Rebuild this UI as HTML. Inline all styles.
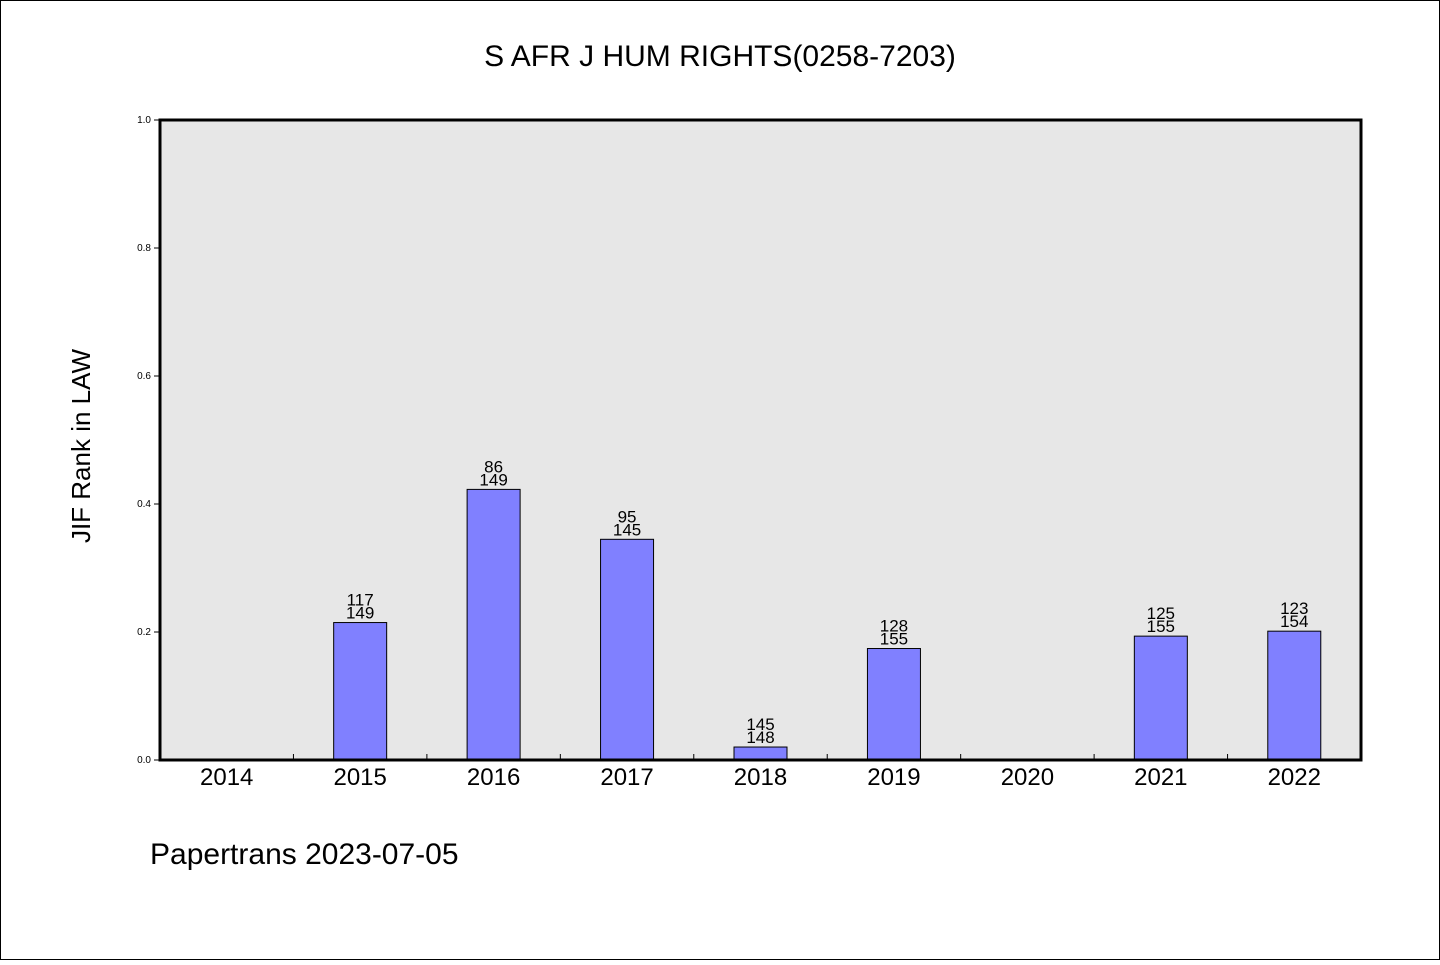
<!DOCTYPE html>
<html><head><meta charset="utf-8"><style>
html,body{margin:0;padding:0;background:#fff;}
svg text{font-family:"WenQuanYi Zen Hei","Liberation Sans",sans-serif;fill:#000;}
</style></head><body>
<svg id="chart" width="1440" height="960" xmlns="http://www.w3.org/2000/svg">
<rect x="0.5" y="0.5" width="1439" height="959" fill="#fff" stroke="#000"/>
<text x="720" y="66" font-size="30" text-anchor="middle">S AFR J HUM RIGHTS(0258-7203)</text>
<rect x="160" y="120" width="1201" height="640" fill="#e7e7e7"/>
<g id="marks"></g>
<rect x="160" y="120" width="1201" height="640" fill="none" stroke="#000" stroke-width="3"/>
<text transform="translate(90,446) rotate(-90)" font-size="26" text-anchor="middle">JIF Rank in LAW</text>
<text x="150" y="864" font-size="30">Papertrans 2023-07-05</text>
</svg>
<script>
const years = ["2014","2015","2016","2017","2018","2019","2020","2021","2022"];
const ranks = [null,117,86,95,145,128,null,125,123];
const totals = [null,149,149,145,148,155,null,155,154];
const yTicks = ["0.0","0.2","0.4","0.6","0.8","1.0"];
const NS="http://www.w3.org/2000/svg";
const g=document.getElementById('marks');
const X0=160,X1=1361,Y0=760,Y1=120;
const band=(X1-X0)/years.length;
const xs=i=>X0+band*(i+0.5);
const ys=v=>Y0-(Y1-Y0)*-1*v;
function yScale(v){return Y0-v*(Y0-Y1);}
function mk(t,a){const e=document.createElementNS(NS,t);for(const k in a)e.setAttribute(k,a[k]);g.appendChild(e);return e;}
yTicks.forEach((t,i)=>{
  const v=parseFloat(t),y=yScale(v);
  const l=mk('line',{x1:154,x2:160,y1:y,y2:y,stroke:'#000'});
  
  
  const tx=mk('text',{x:151,y:y+3,'font-size':10,'text-anchor':'end'});
  tx.textContent=t;
  
  
});
years.forEach((yr,i)=>{
  if(i>0){
    const xb=X0+band*i;
    const l=mk('line',{x1:xb,x2:xb,y1:754,y2:760,stroke:'#000'});
    
    
  }
  const tx=mk('text',{x:xs(i),y:785,'font-size':24,'text-anchor':'middle'});
  tx.textContent=yr;
  
  
  if(ranks[i]!=null){
    const v=(totals[i]-ranks[i])/totals[i];
    const top=yScale(v);
    const b=mk('rect',{x:xs(i)-26.5,y:top,width:53,height:Y0-top,fill:'#8080ff',stroke:'#000','stroke-width':1});
    
    
    const t1=mk('text',{x:xs(i),y:top-17,'font-size':17,'text-anchor':'middle'});
    t1.textContent=ranks[i];
    
    
    const t2=mk('text',{x:xs(i),y:top-4,'font-size':17,'text-anchor':'middle'});
    t2.textContent=totals[i];
    
    
  }
});
</script>
</body></html>
